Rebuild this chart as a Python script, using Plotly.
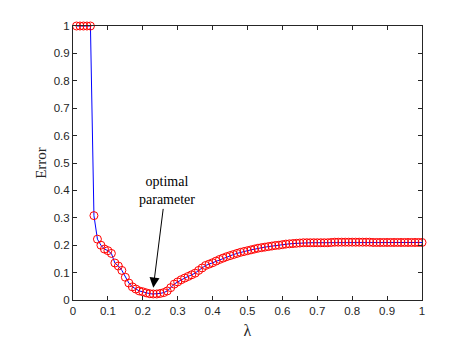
"""Error versus regularisation parameter lambda."""

import plotly.graph_objects as go

LAMBDA = [round(0.01 * i, 2) for i in range(1, 101)]
ERROR = [
    1.0, 1.0, 1.0, 1.0, 1.0,
    0.308, 0.222, 0.200, 0.186, 0.180,
    0.170, 0.135, 0.124, 0.108, 0.083,
    0.062, 0.048, 0.040, 0.033, 0.030,
    0.026, 0.023, 0.022, 0.022, 0.024,
    0.027, 0.033, 0.045, 0.058, 0.066,
    0.074, 0.080, 0.086, 0.092, 0.098,
    0.108, 0.117, 0.126, 0.131, 0.136,
    0.142, 0.148, 0.153, 0.158, 0.162,
    0.166, 0.170, 0.174, 0.177, 0.180,
    0.183, 0.186, 0.189, 0.191, 0.193,
    0.195, 0.197, 0.199, 0.200, 0.202,
    0.204, 0.205, 0.206, 0.207, 0.208,
    0.209, 0.209, 0.209, 0.209, 0.209,
    0.209, 0.209, 0.209, 0.210, 0.211,
    0.211, 0.211, 0.211, 0.211, 0.211,
    0.211, 0.211, 0.211, 0.211, 0.211,
    0.210, 0.210, 0.210, 0.210, 0.210,
    0.210, 0.210, 0.210, 0.210, 0.210,
    0.210, 0.210, 0.210, 0.210, 0.210,
]
TICKS = [round(0.1 * i, 1) for i in range(11)]
TICK_LABELS = ["0"] + [f"{t:g}" for t in TICKS[1:-1]] + ["1"]

ARROW_HEAD = (0.230, 0.045)
ARROW_TAIL = (0.259, 0.338)
LABEL_POS = (0.268, 0.40)

AXIS_COLOR = "#262626"
SERIF = "Liberation Serif, Times New Roman, serif"

fig = go.Figure(
    go.Scatter(
        x=LAMBDA,
        y=ERROR,
        mode="lines+markers",
        line=dict(color="#0000ff", width=1),
        marker=dict(symbol="circle-open", size=8, color="#ff0000", line=dict(width=1)),
        cliponaxis=False,
        showlegend=False,
    )
)

fig.add_annotation(
    x=ARROW_HEAD[0], y=ARROW_HEAD[1],
    ax=ARROW_TAIL[0], ay=ARROW_TAIL[1],
    xref="x", yref="y", axref="x", ayref="y",
    text="", showarrow=True,
    arrowhead=2, arrowsize=2, arrowwidth=1, arrowcolor="black",
)
fig.add_annotation(
    x=LABEL_POS[0], y=LABEL_POS[1],
    xref="x", yref="y",
    text="optimal<br>parameter", showarrow=False,
    font=dict(family=SERIF, size=14, color="black"),
)

axis_style = dict(
    range=[0, 1],
    tickvals=TICKS,
    ticktext=TICK_LABELS,
    ticks="inside",
    ticklen=4,
    tickcolor=AXIS_COLOR,
    showline=True,
    linecolor=AXIS_COLOR,
    linewidth=1,
    mirror="ticks",
    showgrid=False,
    zeroline=False,
    tickfont=dict(family="Liberation Sans, Arial, sans-serif", size=11.5, color=AXIS_COLOR),
)

fig.update_xaxes(
    **axis_style,
    title=dict(text="λ", standoff=9, font=dict(family=SERIF, size=16, color=AXIS_COLOR)),
)
fig.update_yaxes(
    **axis_style,
    title=dict(text="Error", standoff=3, font=dict(family=SERIF, size=15, color=AXIS_COLOR)),
)

# the page body adds an 8px margin, so the figure is a bit smaller than the window
fig.update_layout(
    width=441,
    height=344,
    margin=dict(l=65, r=27, t=16, b=52),
    paper_bgcolor="white",
    plot_bgcolor="white",
)

fig.write_html("out.html")
